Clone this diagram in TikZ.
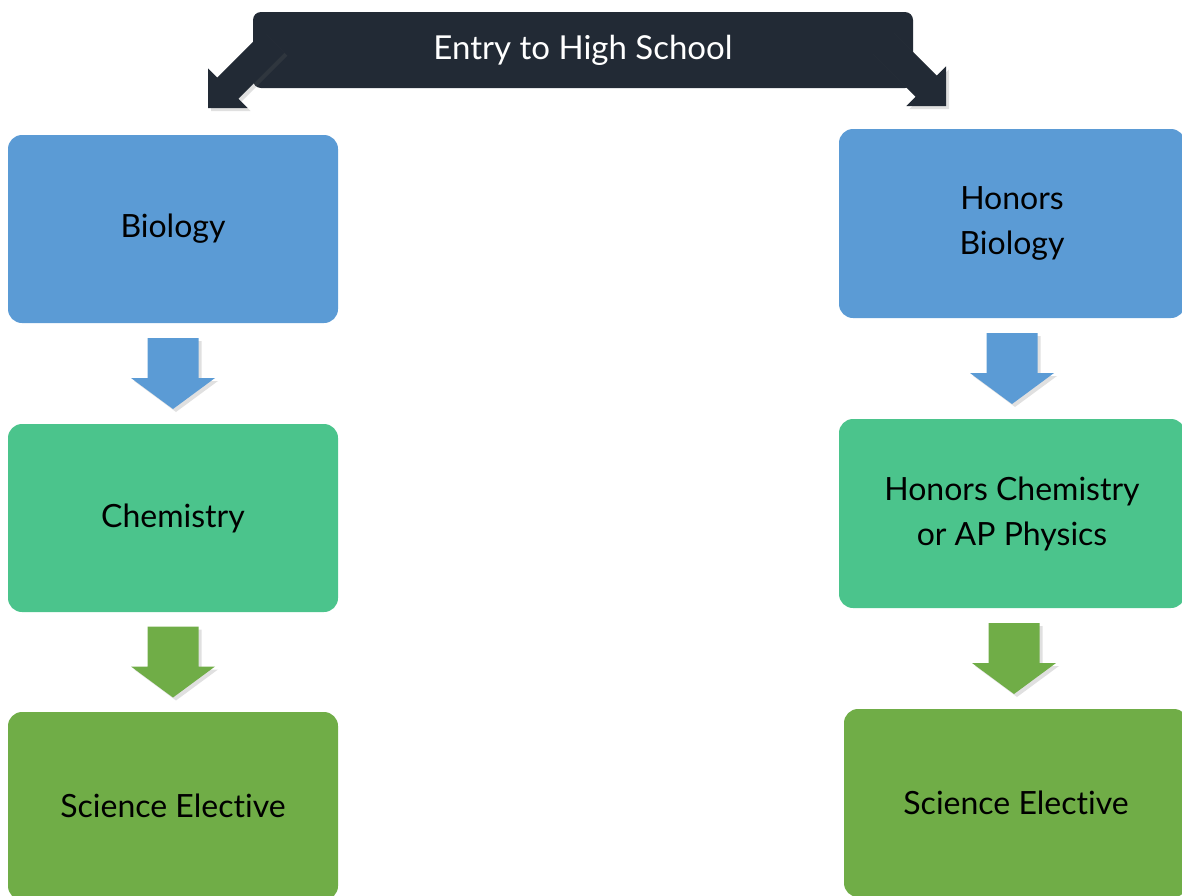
\documentclass[tikz,border=0pt]{standalone}
\usepackage{fontspec}
\setmainfont{Lato}[Ligatures=NoCommon]
\usetikzlibrary{calc,shadows}

\definecolor{bannerdark}{HTML}{222A35}
\definecolor{bioblue}{HTML}{5B9BD5}
\definecolor{chemgreen}{HTML}{4BC48C}
\definecolor{electgreen}{HTML}{70AD47}

\tikzset{
  course/.style={rounded corners=14pt, align=center, inner sep=0pt,
    font=\fontsize{32}{45}\selectfont},
  softshadow/.style={drop shadow={shadow xshift=3pt, shadow yshift=-3pt,
    opacity=.2, fill=black!60}},
  downarrow/.pic={
    \path[pic actions, softshadow] (-25.5pt,35.5pt) -- (25.5pt,35.5pt)
      -- (25.5pt,-4.5pt) -- (42pt,-4.5pt) -- (0pt,-35.5pt)
      -- (-42pt,-4.5pt) -- (-25.5pt,-4.5pt) -- cycle;
  }
}

\begin{document}
\begin{tikzpicture}[x=1pt,y=-1pt]
\useasboundingbox (0,0) rectangle (1182,895);
\clip (0,0) rectangle (1182,895);

% banner
\node[course, fill=bannerdark, text=white, rounded corners=8pt,
  font=\fontsize{33}{45}\selectfont,
  minimum width=660pt, minimum height=76pt] (entry) at (583,50) {Entry to High School};

\coordinate (ltip) at (208,108);
\coordinate (rtip) at (946,106);
\fill[bannerdark, softshadow] (ltip) -- ++(39.6,0) -- ++(-9.2,-9.2) -- ++(46,-46)
  -- ++(-21.2,-21.2) -- ++(-46,46) -- ++(-9.2,-9.2) -- cycle;
\fill[bannerdark, softshadow] (rtip) -- ++(-39.6,0) -- ++(9.2,-9.2) -- ++(-46,-46)
  -- ++(21.2,-21.2) -- ++(46,46) -- ++(9.2,-9.2) -- cycle;

% left column
\node[course, fill=bioblue, minimum width=330pt, minimum height=188pt] (bio) at (173,229) {Biology};
\node[course, fill=chemgreen, minimum width=330pt, minimum height=188pt] (chem) at (173,518) {Chemistry};
\node[course, fill=electgreen, minimum width=330pt, minimum height=188pt] (electL) at (173,806) {Science Elective};

% right column
\node[course, fill=bioblue, minimum width=346pt, minimum height=189pt] (hbio) at (1012,223.5) {Honors\\Biology};
\node[course, fill=chemgreen, minimum width=346pt, minimum height=189pt] (hchem) at (1012,513.5) {Honors Chemistry\\or AP Physics};
\node[course, fill=electgreen, minimum width=344pt, minimum height=188pt] (electR) at (1016,803) {Science Elective};

% arrows between boxes
\pic[fill=bioblue] at ($(bio.south)!.5!(chem.north)$) {downarrow};
\pic[fill=electgreen] at ($(chem.south)!.5!(electL.north)$) {downarrow};
\pic[fill=bioblue] at ($(hbio.south)!.5!(hchem.north)$) {downarrow};
\pic[fill=electgreen] at ($(hchem.south)!.5!(electR.north)$) {downarrow};
\end{tikzpicture}
\end{document}
